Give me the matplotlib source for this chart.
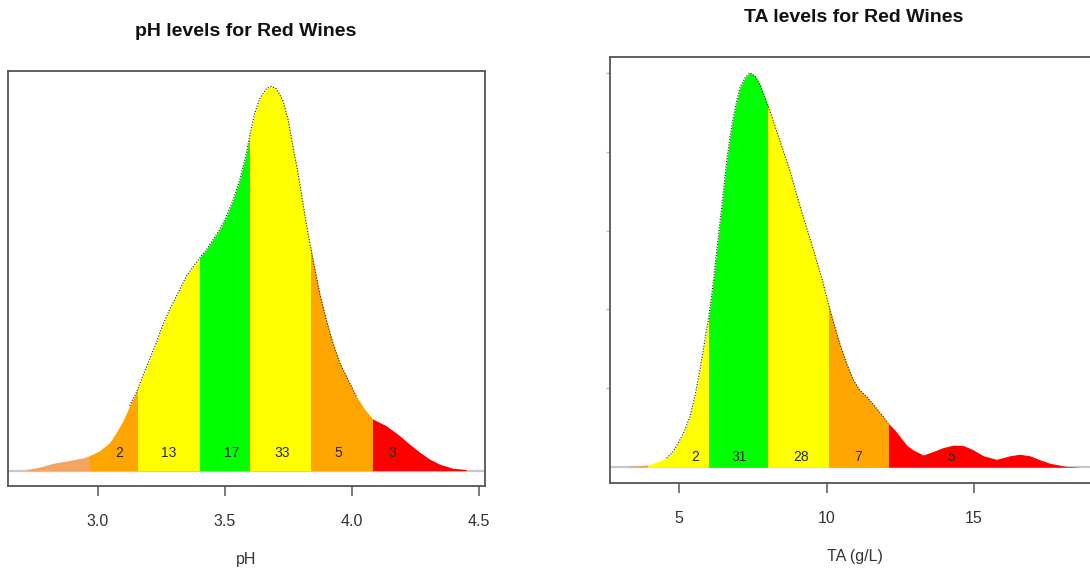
import numpy as np
import matplotlib
matplotlib.use("Agg")
import matplotlib.pyplot as plt
from matplotlib.patches import Rectangle

plt.rcParams['font.family'] = ['Liberation Sans', 'DejaVu Sans']

# ---------------- pH density (peak normalised to 1) ----------------
ph_x = [2.718, 2.770, 2.823, 2.875, 2.941, 2.967, 3.007, 3.046, 3.072, 3.099, 3.125,
        3.151, 3.177, 3.204, 3.230, 3.256, 3.282, 3.309, 3.348, 3.381, 3.400, 3.427,
        3.453, 3.479, 3.505, 3.532, 3.558, 3.584, 3.597, 3.617, 3.637, 3.663, 3.683,
        3.702, 3.728, 3.748, 3.768, 3.788, 3.807, 3.827, 3.847, 3.873, 3.899, 3.925,
        3.952, 3.984, 4.017, 4.050, 4.083, 4.135, 4.188, 4.227, 4.267, 4.306, 4.345,
        4.398, 4.450]
ph_y = [0.003, 0.009, 0.019, 0.025, 0.033, 0.039, 0.052, 0.073, 0.099, 0.130, 0.169,
        0.203, 0.246, 0.290, 0.333, 0.380, 0.419, 0.454, 0.506, 0.536, 0.553, 0.575,
        0.601, 0.627, 0.661, 0.704, 0.756, 0.825, 0.869, 0.929, 0.968, 0.994, 1.000,
        0.994, 0.964, 0.916, 0.843, 0.774, 0.696, 0.618, 0.549, 0.462, 0.393, 0.333,
        0.281, 0.238, 0.194, 0.160, 0.134, 0.117, 0.091, 0.069, 0.048, 0.030, 0.017,
        0.006, 0.003]
ph_edges = [2.60, 2.967, 3.157, 3.40, 3.60, 3.84, 4.083, 4.60]
ph_colors = ['#F4A460', '#FFA500', '#FFFF00', '#00FF00', '#FFFF00', '#FFA500', '#FF0000']
ph_labels = ['2', '13', '17', '33', '5', '3']
ph_label_x = [3.085, 3.278, 3.527, 3.727, 3.948, 4.160]

# ---------------- TA density (peak normalised to 1) ----------------
ta_x = [3.27, 3.95, 4.57, 4.80, 5.02, 5.19, 5.36, 5.53, 5.70, 5.85, 6.00, 6.15, 6.27,
        6.44, 6.61, 6.72, 6.83, 6.95, 7.06, 7.23, 7.40, 7.57, 7.74, 7.85, 8.00, 8.19,
        8.42, 8.76, 8.98, 9.21, 9.44, 9.66, 9.89, 10.09, 10.28, 10.45, 10.68, 10.91,
        11.13, 11.36, 11.70, 12.10, 12.32, 12.49, 12.72, 12.94, 13.28, 13.62, 13.96,
        14.30, 14.64, 14.98, 15.32, 15.77, 16.22, 16.56, 16.90, 17.24, 17.58, 18.14,
        18.65]
ta_y = [0.002, 0.006, 0.023, 0.040, 0.069, 0.094, 0.128, 0.179, 0.246, 0.313, 0.381,
        0.465, 0.549, 0.659, 0.777, 0.836, 0.886, 0.928, 0.962, 0.987, 1.000, 0.992,
        0.971, 0.949, 0.920, 0.878, 0.827, 0.751, 0.692, 0.634, 0.579, 0.524, 0.465,
        0.406, 0.356, 0.313, 0.263, 0.221, 0.195, 0.179, 0.149, 0.111, 0.094, 0.078,
        0.056, 0.044, 0.031, 0.040, 0.050, 0.056, 0.055, 0.044, 0.029, 0.020, 0.029,
        0.033, 0.029, 0.019, 0.010, 0.002, 0.000]
ta_edges = [2.0, 3.95, 6.00, 8.00, 10.09, 12.11, 20.0]
ta_colors = ['#F4A460', '#FFFF00', '#00FF00', '#FFFF00', '#FFA500', '#FF0000']
ta_labels = ['2', '31', '28', '7', '5']
ta_label_x = [5.53, 7.04, 9.13, 11.07, 14.22]

ph_ticks = [3.0, 3.5, 4.0, 4.5]
ta_ticks = [5, 10, 15]

fig = plt.figure(figsize=(10.9, 5.69), dpi=100)
W, H = 1090.0, 569.0

ax1 = fig.add_axes([8 / W, 83 / H, 477 / W, 415 / H])
ax2 = fig.add_axes([610 / W, 86 / H, 490 / W, 426 / H])


def draw(ax, xs, ys, edges, colors, labels, lab_x, lab_y, outline_rng):
    xs = np.asarray(xs)
    ys = np.asarray(ys)
    ax.axhline(0, color='#C8C8C8', lw=1.6, zorder=1)
    for lo, hi, c in zip(edges[:-1], edges[1:], colors):
        poly = ax.fill_between(xs, 0, ys, color=c, lw=0, zorder=2)
        rect = Rectangle((lo, -0.1), hi - lo, 1.3, transform=ax.transData)
        poly.set_clip_path(rect)
    m = (xs >= outline_rng[0]) & (xs <= outline_rng[1])
    ax.plot(xs[m], ys[m], color='#222222', lw=0.8, ls=(0, (1, 1.5)), zorder=3)
    for t, x in zip(labels, lab_x):
        ax.text(x, lab_y, t, ha='center', va='center', fontsize=10, color='#2a2a2a', zorder=4)
    for s in ax.spines.values():
        s.set_color('#555555')
        s.set_linewidth(1.3)
    ax.set_ylim(-0.04, 1.04)
    ax.tick_params(axis='x', length=7, width=1.1, color='#555555', pad=13,
                   labelsize=11.5, labelcolor='#333333')


draw(ax1, ph_x, ph_y, ph_edges, ph_colors, ph_labels, ph_label_x, 0.047, (3.12, 4.02))
draw(ax2, ta_x, ta_y, ta_edges, ta_colors, ta_labels, ta_label_x, 0.027, (4.5, 12.2))

ax1.set_xlim(2.646, 4.524)
ax1.set_xticks(ph_ticks)
ax1.set_xticklabels([f'{t:.1f}' for t in ph_ticks])
ax1.set_yticks([])

ax2.set_xlim(2.65, 19.28)
ax2.set_xticks(ta_ticks)
ax2.set_xticklabels([str(t) for t in ta_ticks])
ax2.set_yticks([0.2, 0.4, 0.6, 0.8, 1.0])
ax2.set_yticklabels([])
ax2.tick_params(axis='y', length=3, width=1, color='#BBBBBB')

ax1.set_xlabel('pH', fontsize=11.5, color='#333333', labelpad=17)
ax2.set_xlabel('TA (g/L)', fontsize=11.5, color='#333333', labelpad=17)

fig.text(246 / W, 1 - 32 / H, 'pH levels for Red Wines', ha='center', va='center',
         fontsize=14, fontweight='bold', color='#111111')
fig.text(854 / W, 1 - 17 / H, 'TA levels for Red Wines', ha='center', va='center',
         fontsize=14, fontweight='bold', color='#111111')

fig.savefig('out.png', dpi=100)
